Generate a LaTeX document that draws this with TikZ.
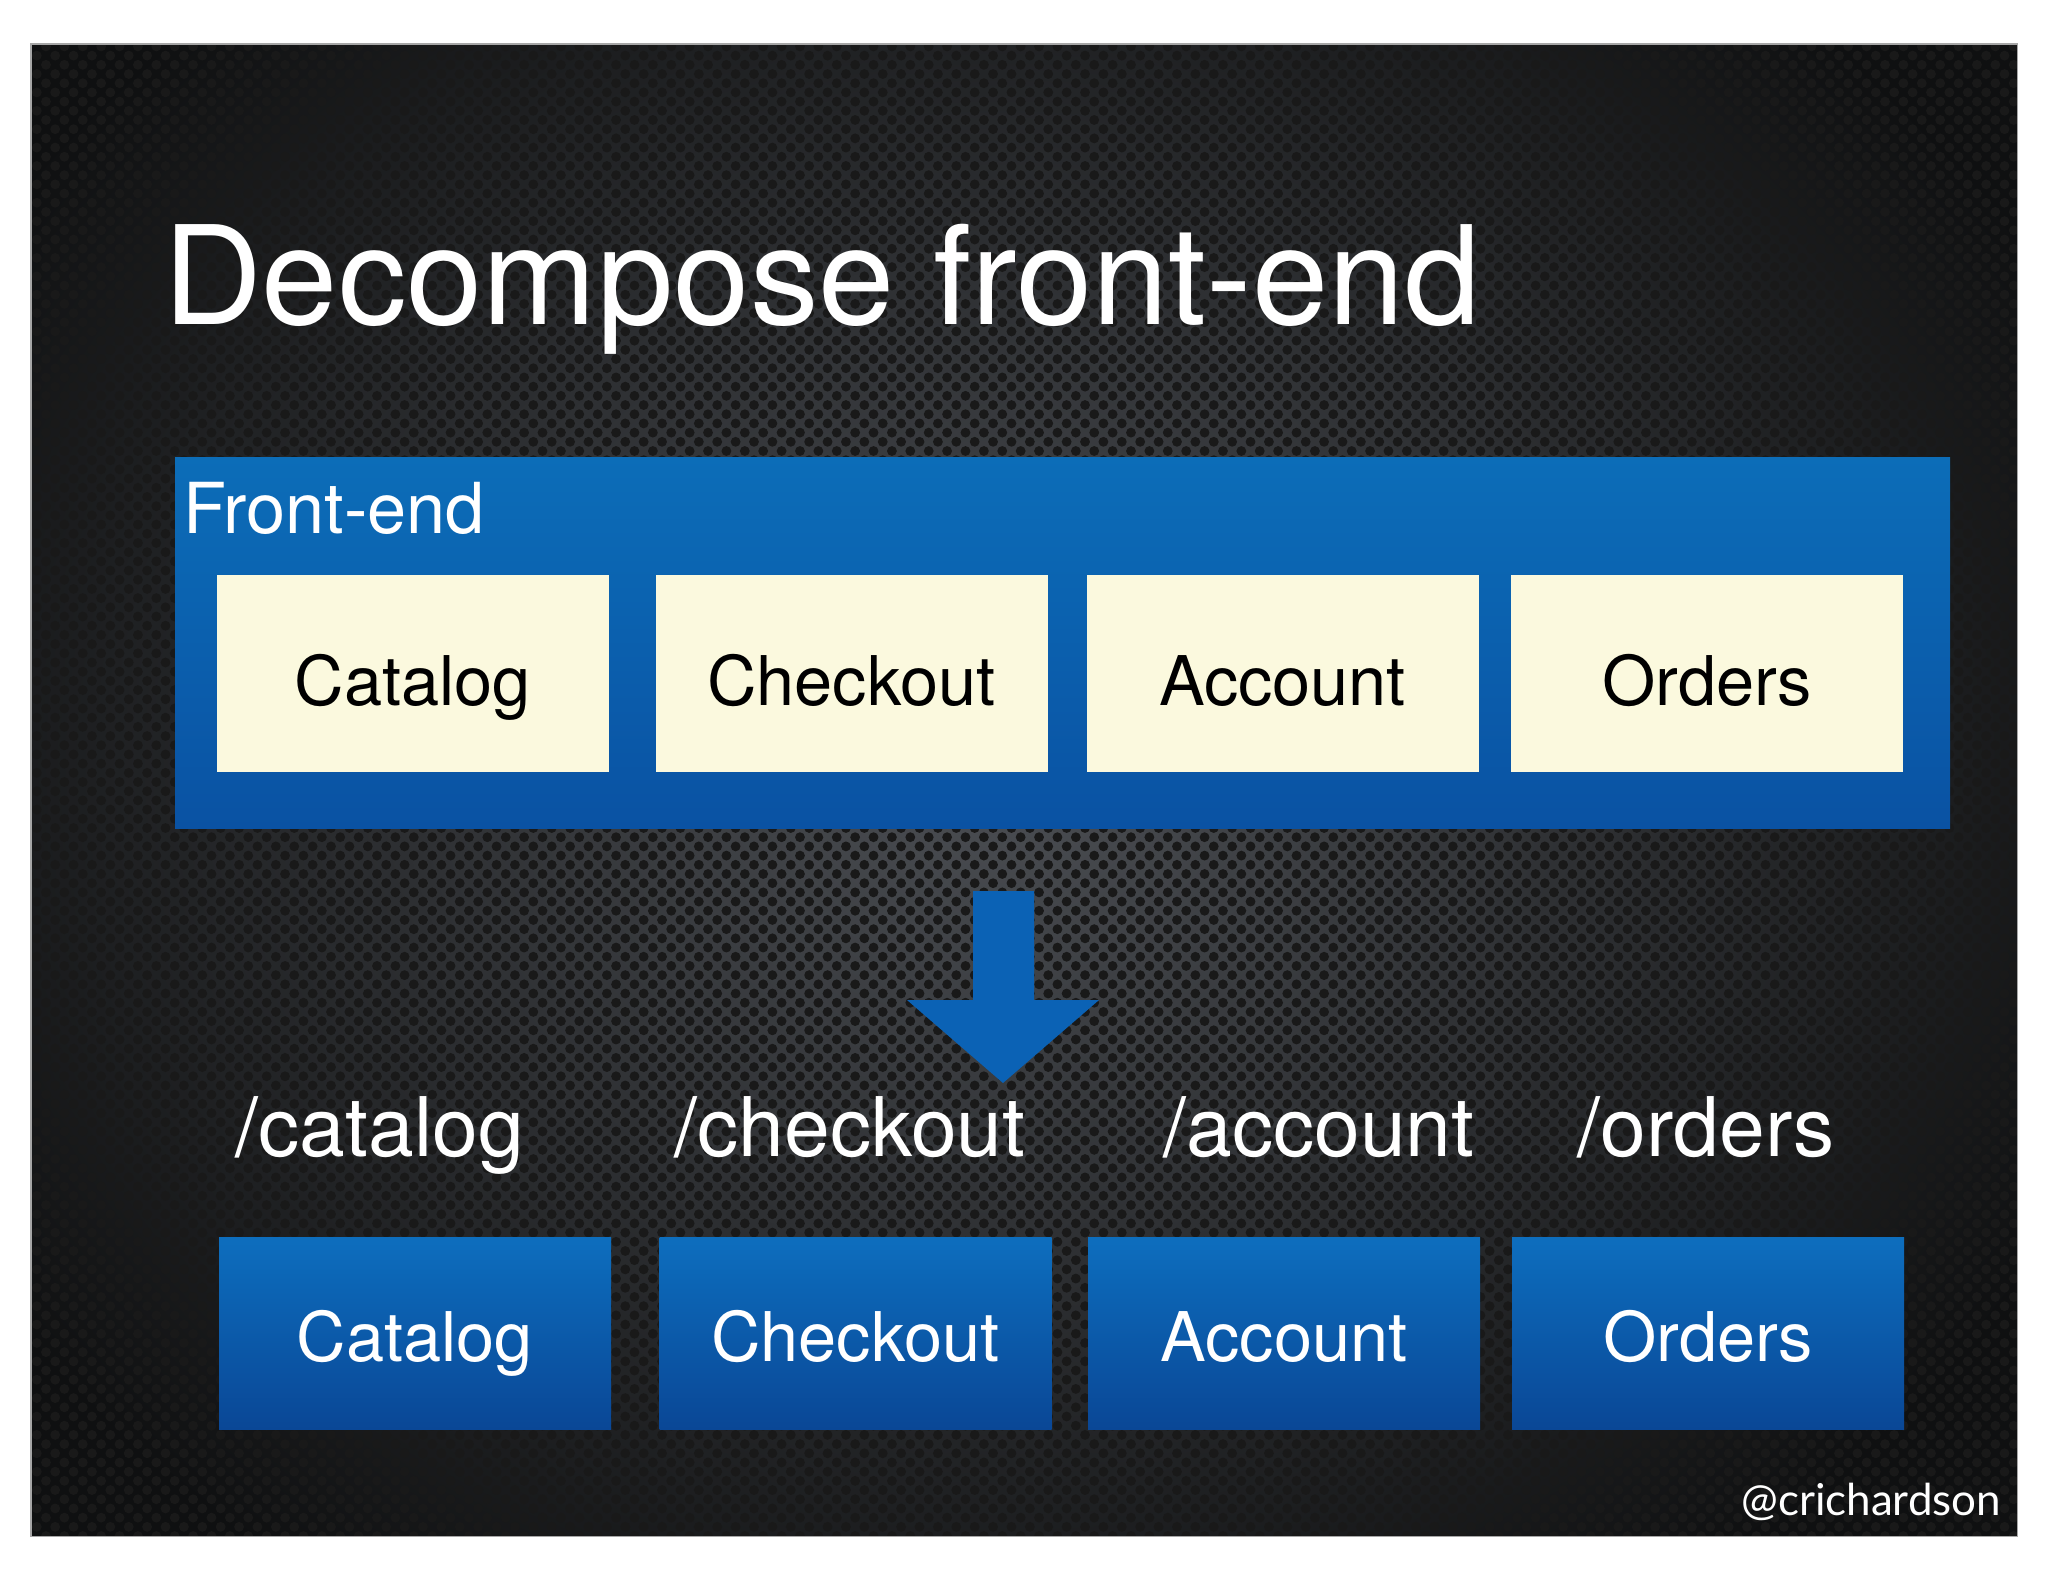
\documentclass[tikz,border=0pt]{standalone}
\usepackage{fontspec}
\setmainfont{TeX Gyre Heros}
\newfontfamily\handlefont{Lato}
\usetikzlibrary{patterns.meta}
\definecolor{bgbase}{HTML}{0F1011}
\definecolor{bglight}{HTML}{4C4F54}
\definecolor{cream}{HTML}{FBF9DE}
\definecolor{fetop}{HTML}{0C6DB8}
\definecolor{febot}{HTML}{0A52A3}
\definecolor{svtop}{HTML}{0D6EBE}
\definecolor{svbot}{HTML}{0A4796}
\definecolor{arrowblue}{HTML}{0B62B5}
\tikzset{
  titletext/.style={inner sep=0pt, outer sep=0pt, text=white, font=\fontsize{39}{46}\selectfont},
  frontlabel/.style={inner sep=0pt, outer sep=0pt, text=white, font=\fontsize{20}{24}\selectfont},
  uibox/.style={inner sep=0pt, outer sep=0pt, fill=cream, text=black,
    minimum width=39.2mm, minimum height=19.7mm,
    text height=6.3mm, text depth=0pt, font=\fontsize{19.5}{23}\selectfont},
  svcbox/.style={inner sep=0pt, outer sep=0pt, top color=svtop, bottom color=svbot, text=white,
    minimum width=39.2mm, minimum height=19.2mm,
    text height=5.6mm, text depth=0pt, font=\fontsize{19.5}{23}\selectfont},
  pathtext/.style={inner sep=0pt, outer sep=0pt, text=white, font=\fontsize{23.4}{28}\selectfont},
  handle/.style={inner sep=0pt, outer sep=0pt, text=white, font=\handlefont\fontsize{12.5}{15}\selectfont},
}
\begin{document}
\begin{tikzpicture}[x=0.1mm, y=-0.1mm]
\useasboundingbox (0,0) rectangle (2048,1582);
\fill[white] (0,0) rectangle (2048,1582);
% slide background
\fill[bgbase] (31,44) rectangle (2017,1536);
\begin{scope}
  \clip (31,44) rectangle (2017,1536);
  \shade[inner color=bglight, outer color=bgbase] (1000,760) ellipse (1200 and 1000);
  \fill[pattern={Dots[radius=1.4pt, distance=3.7pt, angle=45]}, pattern color=black!90] (31,44) rectangle (2017,1536);
\end{scope}
\draw[gray!70, line width=0.3pt] (31,44) rectangle (2017,1536);

% title
\node[titletext, anchor=base west] (title) at (163,324) {Decompose front-end};

% front-end container
\node[inner sep=0pt, outer sep=0pt, top color=fetop, bottom color=febot,
      minimum width=177.5mm, minimum height=37.1mm] (frontend) at (1062.5,642.5) {};
\node[frontlabel, anchor=base west] (felabel) at (183,533) {Front-end};

% UI modules
\node[uibox] (uicatalog)  at (413,673.5)  {Catalog};
\node[uibox] (uicheckout) at (851.5,673.5) {Checkout};
\node[uibox] (uiaccount)  at (1282.5,673.5) {Account};
\node[uibox] (uiorders)   at (1707,673.5) {Orders};

% big arrow
\fill[arrowblue] (973,891) -- (1034,891) -- (1034,1000) -- (1099,1000) -- (1003,1083)
  -- (907,1000) -- (973,1000) -- cycle;

% paths
\node[pathtext, anchor=base] (pcatalog)  at (380,1156)  {/catalog};
\node[pathtext, anchor=base] (pcheckout) at (850,1156)  {/checkout};
\node[pathtext, anchor=base] (paccount)  at (1319,1156) {/account};
\node[pathtext, anchor=base] (porders)   at (1706,1156) {/orders};

% services
\node[svcbox] (scatalog)  at (415,1333)   {Catalog};
\node[svcbox] (scheckout) at (855.5,1333) {Checkout};
\node[svcbox] (saccount)  at (1284,1333)  {Account};
\node[svcbox] (sorders)   at (1708,1333)  {Orders};

% handle
\node[handle, anchor=base east] (handle) at (2001,1515) {@crichardson};
\end{tikzpicture}
\end{document}
